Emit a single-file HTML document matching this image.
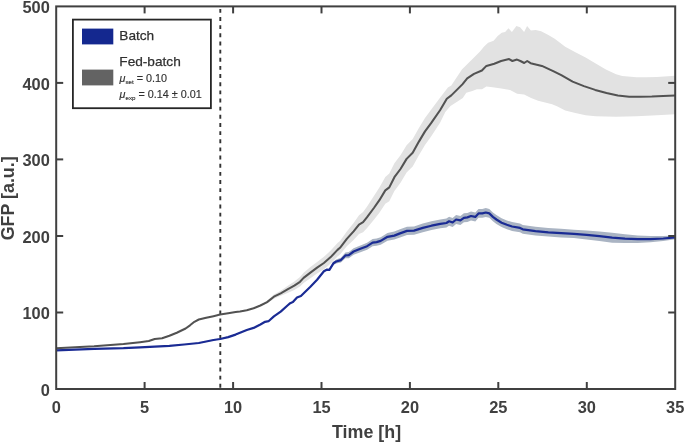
<!DOCTYPE html>
<html><head><meta charset="utf-8"><title>GFP vs Time</title>
<style>
html,body{margin:0;padding:0;background:#fff;}
svg{display:block;will-change:transform;}
text{font-family:"Liberation Sans",Arial,Helvetica,sans-serif;fill:#404040;}
.tk{font-size:16.4px;font-weight:bold;}
.al{font-size:17.85px;font-weight:bold;}
.lg{font-size:13.65px;fill:#303030;stroke:#303030;stroke-width:0.25px;}
.sm{font-size:10.8px;fill:#303030;stroke:#303030;stroke-width:0.15px;}
.sub{font-size:6.2px;}
</style></head><body>
<svg width="685" height="442" viewBox="0 0 685 442">
<rect width="685" height="442" fill="#fff"/>
<path d="M56.2,347.9 L94.1,346.0 L123.5,343.8 L140.0,341.9 L148.8,340.6 L154.7,338.7 L162.1,337.9 L169.4,335.4 L176.8,332.3 L185.6,328.1 L190.0,324.9 L194.4,321.4 L198.8,319.1 L206.2,317.4 L213.5,315.8 L220.1,314.2 L228.2,312.8 L235.6,311.7 L240.0,311.2 L246.8,309.8 L253.6,307.8 L260.4,304.9 L267.1,300.8 L273.9,294.6 L280.7,290.8 L287.5,286.0 L294.3,281.4 L300.0,276.9 L303.6,272.7 L310.4,267.1 L317.1,261.9 L323.9,256.8 L330.7,250.6 L337.5,243.1 L340.0,241.0 L346.8,231.6 L353.6,222.9 L359.0,215.2 L363.1,212.0 L367.1,206.4 L373.9,196.1 L379.4,187.5 L385.3,177.0 L389.3,173.5 L394.4,163.3 L400.5,155.2 L406.6,145.2 L412.7,139.0 L418.9,128.0 L425.0,117.9 L431.1,109.8 L440.2,97.5 L447.9,87.5 L451.3,85.5 L461.9,69.5 L474.0,57.6 L480.0,51.5 L484.1,46.5 L488.1,42.8 L493.6,40.8 L497.7,36.1 L501.7,32.7 L505.1,32.0 L508.5,28.3 L511.9,32.0 L516.4,25.9 L520.1,27.2 L524.1,32.0 L527.1,26.1 L530.9,30.6 L535.7,29.9 L541.1,31.3 L547.9,34.7 L554.7,38.8 L560.0,42.8 L565.2,46.7 L575.4,52.3 L585.6,57.5 L595.7,63.6 L605.9,69.4 L616.1,74.2 L622.2,76.0 L636.5,77.3 L646.7,77.3 L656.9,76.9 L675.2,75.8 L675.2,114.3 L656.9,115.3 L636.5,116.2 L616.1,116.7 L595.7,116.2 L585.6,115.3 L575.4,113.0 L565.2,110.4 L557.0,106.3 L552.1,104.2 L545.1,102.4 L538.1,100.7 L531.1,98.0 L524.1,94.5 L517.1,93.7 L510.1,90.1 L501.3,88.4 L492.6,87.2 L486.4,86.6 L482.0,89.3 L476.8,89.3 L472.4,91.0 L466.3,92.8 L462.8,98.0 L457.5,101.5 L450.5,105.9 L445.3,112.0 L440.2,122.5 L431.1,136.6 L425.0,145.0 L418.9,155.2 L412.7,166.4 L406.6,172.6 L400.5,182.8 L394.4,191.1 L389.3,201.3 L385.3,203.8 L379.4,212.8 L373.9,219.8 L367.1,228.0 L363.1,232.3 L359.0,234.1 L353.6,239.9 L346.8,246.2 L340.0,254.6 L337.5,256.6 L330.7,263.6 L323.9,269.2 L317.1,273.6 L310.4,278.2 L303.6,283.1 L300.0,286.6 L294.3,289.9 L287.5,292.9 L280.7,295.8 L273.9,298.8 L267.1,303.4 L260.4,306.1 L253.6,308.8 L246.8,310.8 L240.0,312.0 L235.6,312.5 L228.2,313.6 L220.1,315.0 L213.5,316.6 L206.2,318.2 L198.8,319.9 L194.4,322.2 L190.0,325.7 L185.6,328.9 L176.8,333.1 L169.4,336.2 L162.1,338.7 L154.7,339.5 L148.8,341.4 L140.0,342.5 L123.5,344.4 L94.1,346.6 L56.2,348.5Z" fill="#e2e2e2"/>
<path d="M56.2,350.1 L94.1,348.5 L123.5,347.9 L140.0,347.1 L154.7,346.2 L169.4,345.4 L184.1,344.2 L198.8,342.6 L213.5,339.6 L220.1,338.6 L228.2,336.7 L235.6,334.2 L240.0,332.3 L246.8,329.6 L253.6,327.5 L260.4,324.1 L265.1,321.4 L268.5,320.8 L273.9,316.0 L280.7,311.2 L287.5,305.1 L290.2,302.8 L292.9,301.7 L297.0,297.1 L300.9,295.6 L310.4,286.3 L317.1,279.4 L323.9,270.9 L326.7,269.1 L329.4,268.7 L333.4,261.7 L336.2,259.5 L340.9,257.7 L345.4,252.6 L348.8,252.0 L353.6,248.2 L360.4,245.4 L367.1,242.7 L372.6,239.0 L376.6,238.4 L380.7,237.2 L387.5,233.0 L394.3,231.6 L400.0,229.3 L407.0,226.7 L414.0,226.4 L422.8,223.6 L431.5,221.3 L440.3,219.5 L446.4,218.5 L449.1,216.8 L452.6,218.0 L456.1,215.0 L460.4,215.9 L463.9,213.3 L467.4,212.9 L471.0,211.5 L475.3,212.4 L478.5,209.0 L482.3,209.0 L485.8,208.1 L489.3,209.0 L492.9,212.5 L496.4,215.1 L501.6,218.3 L506.9,220.4 L512.1,222.1 L520.0,223.5 L522.8,224.9 L535.5,226.8 L548.3,228.0 L561.1,228.8 L573.9,229.7 L586.6,230.4 L599.4,231.4 L612.2,232.7 L625.0,234.2 L637.7,235.5 L650.5,236.1 L663.3,235.9 L675.2,235.6 L675.2,239.2 L663.3,241.1 L650.5,242.3 L637.7,242.9 L625.0,243.1 L612.2,242.7 L599.4,241.0 L586.6,239.4 L573.9,238.1 L561.1,237.4 L548.3,236.6 L535.5,235.4 L522.8,233.7 L520.0,232.3 L512.1,230.9 L506.9,229.2 L501.6,227.1 L496.4,223.9 L492.9,221.3 L489.3,217.8 L485.8,216.9 L482.3,217.8 L478.5,217.8 L475.3,221.4 L471.0,220.5 L467.4,221.9 L463.9,222.3 L460.4,224.9 L456.1,224.0 L452.6,227.0 L449.1,225.8 L446.4,227.5 L440.3,228.3 L431.5,230.1 L422.8,232.2 L414.0,234.8 L407.0,235.1 L400.0,237.5 L394.3,239.6 L387.5,240.7 L380.7,244.7 L376.6,245.8 L372.6,246.2 L367.1,249.7 L360.4,252.2 L353.6,254.8 L348.8,258.2 L345.4,258.2 L340.9,262.6 L336.2,263.6 L333.4,265.0 L329.4,270.8 L326.7,270.4 L323.9,271.7 L317.1,280.2 L310.4,287.1 L300.9,296.4 L297.0,297.9 L292.9,302.5 L290.2,303.6 L287.5,305.9 L280.7,312.0 L273.9,316.8 L268.5,321.6 L265.1,322.2 L260.4,324.9 L253.6,328.3 L246.8,330.4 L240.0,333.1 L235.6,335.0 L228.2,337.5 L220.1,339.4 L213.5,340.4 L198.8,343.4 L184.1,344.8 L169.4,346.1 L154.7,346.9 L140.0,347.8 L123.5,348.5 L94.1,349.1 L56.2,350.7Z" fill="#aab4c3"/>
<line x1="220.3" y1="8.9" x2="220.3" y2="389" stroke="#333" stroke-width="1.9" stroke-dasharray="3.9 4.25"/>
<path d="M56.2,348.2 L94.1,346.3 L123.5,344.1 L140.0,342.2 L148.8,341.0 L154.7,339.1 L162.1,338.3 L169.4,335.8 L176.8,332.7 L185.6,328.5 L190.0,325.3 L194.4,321.8 L198.8,319.5 L206.2,317.8 L213.5,316.2 L220.1,314.6 L228.2,313.2 L235.6,312.1 L240.0,311.6 L246.8,310.3 L253.6,308.3 L260.4,305.5 L267.1,302.1 L273.9,296.7 L280.7,293.3 L287.5,289.4 L294.3,285.7 L300.0,281.8 L303.6,277.9 L310.4,272.6 L317.1,267.7 L323.9,263.0 L330.7,257.1 L337.5,249.9 L340.0,247.8 L346.8,238.9 L353.6,231.4 L359.0,224.6 L363.1,222.2 L367.1,217.2 L373.9,208.0 L379.4,200.2 L385.3,190.4 L389.3,187.4 L394.4,177.2 L400.5,169.0 L406.6,158.9 L412.7,152.7 L418.9,141.6 L425.0,131.4 L431.1,123.2 L440.2,110.0 L446.8,98.8 L451.3,95.4 L462.6,84.1 L467.2,78.4 L474.0,73.9 L481.9,70.5 L486.4,65.9 L494.3,63.7 L501.1,61.0 L509.1,59.1 L512.4,61.0 L517.0,59.6 L520.4,61.0 L524.2,63.0 L527.2,61.0 L530.6,63.2 L541.9,65.9 L553.2,71.1 L561.3,75.2 L572.6,81.6 L583.9,86.1 L595.2,89.9 L606.5,92.9 L617.8,95.6 L629.2,96.7 L640.5,96.7 L651.8,96.5 L663.1,96.0 L675.2,95.4" fill="none" stroke="#525252" stroke-width="2.05" stroke-linejoin="round"/>
<path d="M56.2,350.4 L94.1,348.8 L123.5,348.2 L140.0,347.4 L154.7,346.6 L169.4,345.8 L184.1,344.5 L198.8,343.0 L213.5,340.0 L220.1,339.0 L228.2,337.1 L235.6,334.6 L240.0,332.7 L246.8,330.0 L253.6,327.9 L260.4,324.5 L265.1,321.8 L268.5,321.2 L273.9,316.4 L280.7,311.6 L287.5,305.5 L290.2,303.2 L292.9,302.1 L297.0,297.5 L300.9,296.0 L310.4,286.7 L317.1,279.8 L323.9,271.3 L326.7,269.7 L329.4,269.8 L333.4,263.3 L336.2,261.5 L340.9,260.1 L345.4,255.4 L348.8,255.1 L353.6,251.5 L360.4,248.8 L367.1,246.2 L372.6,242.6 L376.6,242.1 L380.7,240.9 L387.5,236.8 L394.3,235.6 L400.0,233.4 L407.0,230.9 L414.0,230.6 L422.8,227.9 L431.5,225.7 L440.3,223.9 L446.4,223.0 L449.1,221.3 L452.6,222.5 L456.1,219.5 L460.4,220.4 L463.9,217.8 L467.4,217.4 L471.0,216.0 L475.3,216.9 L478.5,213.4 L482.3,213.4 L485.8,212.5 L489.3,213.4 L492.9,216.9 L496.4,219.5 L501.6,222.7 L506.9,224.8 L512.1,226.5 L520.0,227.9 L522.8,229.3 L535.5,231.1 L548.3,232.3 L561.1,233.1 L573.9,233.9 L586.6,234.9 L599.4,236.2 L612.2,237.7 L625.0,238.7 L637.7,239.2 L650.5,239.2 L663.3,238.5 L675.2,237.4" fill="none" stroke="#1a2b94" stroke-width="2.2" stroke-linejoin="round"/>
<text class="tk" x="56.2" y="412.7" text-anchor="middle">0</text>
<line x1="144.6" y1="389.0" x2="144.6" y2="382.0" stroke="#404040" stroke-width="2"/>
<line x1="144.6" y1="6.4" x2="144.6" y2="13.4" stroke="#404040" stroke-width="2"/>
<text class="tk" x="144.6" y="412.7" text-anchor="middle">5</text>
<line x1="233.1" y1="389.0" x2="233.1" y2="382.0" stroke="#404040" stroke-width="2"/>
<line x1="233.1" y1="6.4" x2="233.1" y2="13.4" stroke="#404040" stroke-width="2"/>
<text class="tk" x="233.1" y="412.7" text-anchor="middle">10</text>
<line x1="321.5" y1="389.0" x2="321.5" y2="382.0" stroke="#404040" stroke-width="2"/>
<line x1="321.5" y1="6.4" x2="321.5" y2="13.4" stroke="#404040" stroke-width="2"/>
<text class="tk" x="321.5" y="412.7" text-anchor="middle">15</text>
<line x1="409.9" y1="389.0" x2="409.9" y2="382.0" stroke="#404040" stroke-width="2"/>
<line x1="409.9" y1="6.4" x2="409.9" y2="13.4" stroke="#404040" stroke-width="2"/>
<text class="tk" x="409.9" y="412.7" text-anchor="middle">20</text>
<line x1="498.3" y1="389.0" x2="498.3" y2="382.0" stroke="#404040" stroke-width="2"/>
<line x1="498.3" y1="6.4" x2="498.3" y2="13.4" stroke="#404040" stroke-width="2"/>
<text class="tk" x="498.3" y="412.7" text-anchor="middle">25</text>
<line x1="586.8" y1="389.0" x2="586.8" y2="382.0" stroke="#404040" stroke-width="2"/>
<line x1="586.8" y1="6.4" x2="586.8" y2="13.4" stroke="#404040" stroke-width="2"/>
<text class="tk" x="586.8" y="412.7" text-anchor="middle">30</text>
<text class="tk" x="675.2" y="412.7" text-anchor="middle">35</text>
<text class="tk" x="49.8" y="395.8" text-anchor="end">0</text>
<line x1="56.2" y1="312.5" x2="63.2" y2="312.5" stroke="#404040" stroke-width="2"/>
<line x1="675.2" y1="312.5" x2="668.2" y2="312.5" stroke="#404040" stroke-width="2"/>
<text class="tk" x="49.8" y="319.3" text-anchor="end">100</text>
<line x1="56.2" y1="236.0" x2="63.2" y2="236.0" stroke="#404040" stroke-width="2"/>
<line x1="675.2" y1="236.0" x2="668.2" y2="236.0" stroke="#404040" stroke-width="2"/>
<text class="tk" x="49.8" y="242.8" text-anchor="end">200</text>
<line x1="56.2" y1="159.4" x2="63.2" y2="159.4" stroke="#404040" stroke-width="2"/>
<line x1="675.2" y1="159.4" x2="668.2" y2="159.4" stroke="#404040" stroke-width="2"/>
<text class="tk" x="49.8" y="166.2" text-anchor="end">300</text>
<line x1="56.2" y1="82.9" x2="63.2" y2="82.9" stroke="#404040" stroke-width="2"/>
<line x1="675.2" y1="82.9" x2="668.2" y2="82.9" stroke="#404040" stroke-width="2"/>
<text class="tk" x="49.8" y="89.7" text-anchor="end">400</text>
<text class="tk" x="49.8" y="13.2" text-anchor="end">500</text>
<rect x="56.2" y="6.4" width="619.0" height="382.6" fill="none" stroke="#404040" stroke-width="2"/>
<text class="al" x="366.6" y="437.5" text-anchor="middle">Time [h]</text>
<text class="al" transform="translate(14.4,198.3) rotate(-90)" text-anchor="middle">GFP [a.u.]</text>
<rect x="72.9" y="19.6" width="138" height="88.6" fill="#fff" stroke="#262626" stroke-width="1.8"/>
<rect x="82" y="28.6" width="31.3" height="15.8" fill="#14288f"/>
<rect x="82" y="69.6" width="31.3" height="15.8" fill="#636363"/>
<text class="lg" x="119.3" y="40.3">Batch</text>
<text class="lg" x="119.3" y="65.5">Fed-batch</text>
<text class="sm" x="119.4" y="81.5"><tspan font-style="italic">μ</tspan><tspan class="sub" dy="2" dx="0.2">set</tspan><tspan dy="-2"> = 0.10</tspan></text>
<text class="sm" x="119.4" y="97.9"><tspan font-style="italic">μ</tspan><tspan class="sub" dy="2" dx="0.2">exp</tspan><tspan dy="-2"> = 0.14 ± 0.01</tspan></text>
</svg></body></html>
